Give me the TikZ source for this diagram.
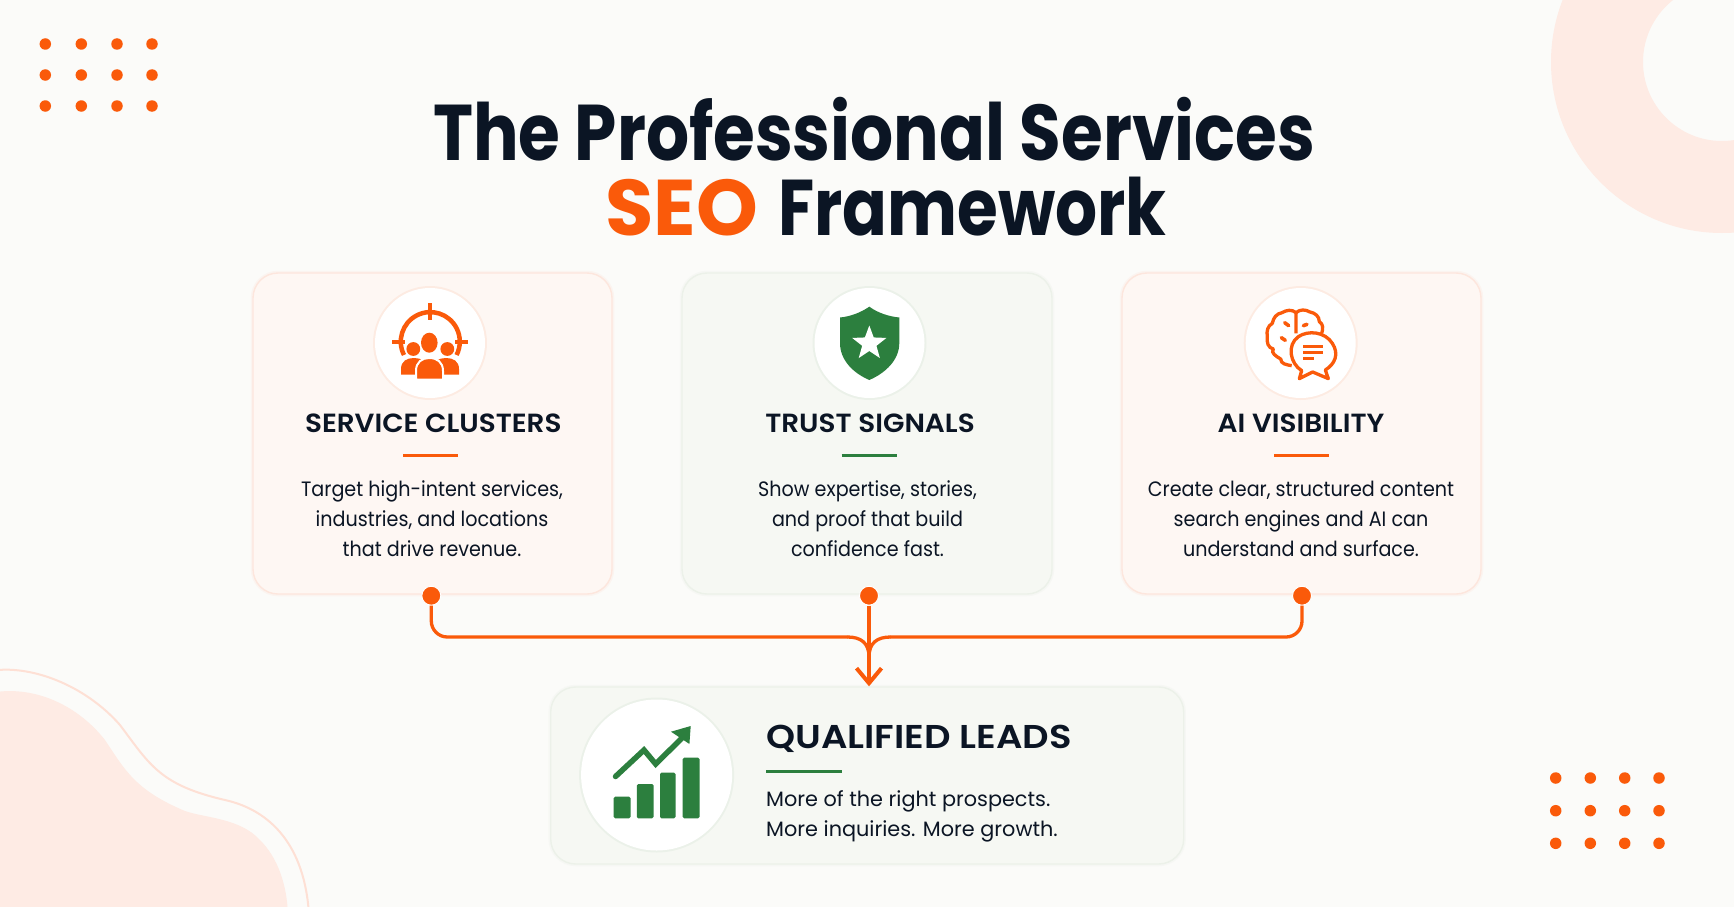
\documentclass[tikz,border=0pt]{standalone}
\usepackage{fontspec}
\usetikzlibrary{arrows.meta,calc,shapes.geometric}
\setmainfont{Poppins}
\newfontfamily\ftitle[FakeStretch=0.857]{Poppins}
\newfontfamily\ftitleseo[FakeStretch=0.995]{Poppins}
\newfontfamily\ftitlefw[FakeStretch=0.836]{Poppins}
\newfontfamily\fhead[FakeStretch=1.06]{Poppins SemiBold}
\newfontfamily\fheadlg[FakeStretch=1.12]{Poppins SemiBold}
\newfontfamily\fbody[FakeStretch=0.92]{Poppins}
\newfontfamily\fbodylg[FakeStretch=1.0]{Poppins}
\definecolor{bgc}{HTML}{FBFBF9}
\definecolor{ink}{HTML}{0B1524}
\definecolor{org}{HTML}{FA5A0A}
\definecolor{grn}{HTML}{2C7F3E}
\definecolor{deco}{HTML}{FEEBE4}
\definecolor{decoline}{HTML}{FEE0D5}
\definecolor{cardo}{HTML}{FEF7F3}
\definecolor{cardg}{HTML}{F6F8F3}
\definecolor{edgeo}{HTML}{FDE6DD}
\definecolor{edgeg}{HTML}{ECF1E9}
\tikzset{
  x=1pt,y=-1pt,
  cardbox/.style={rectangle,rounded corners=25pt,inner sep=0pt,line width=1.4pt},
  cardorange/.style={cardbox,fill=cardo,draw=edgeo,preaction={draw=edgeo,line width=4.5pt,opacity=.3}},
  cardgreen/.style={cardbox,fill=cardg,draw=edgeg,preaction={draw=edgeg,line width=4.5pt,opacity=.3}},
  iconcirc/.style={circle,fill=white,inner sep=0pt,minimum size=110pt},
  icono/.style={iconcirc,preaction={draw=org,line width=4pt,opacity=.07}},
  icong/.style={iconcirc,preaction={draw=grn,line width=4pt,opacity=.05}},
  headtext/.style={anchor=base,text=ink,inner sep=0pt,font=\fhead\fontsize{26.3pt}{30pt}\selectfont},
  bodytext/.style={anchor=base,text=ink,inner sep=0pt,font=\fbody\fontsize{20.8pt}{30pt}\selectfont},
  titletext/.style={anchor=base,inner sep=0pt},
  pindot/.style={circle,fill=org,draw=white,line width=1pt,inner sep=0pt,minimum size=19pt},
  conn/.style={draw=org,line width=3.3pt},
  rulestroke/.style={line width=3pt},
  decodot/.style={circle,fill=org,inner sep=0pt,minimum size=11.5pt},
}
\begin{document}
\begin{tikzpicture}
\useasboundingbox (0,0) rectangle (1734,907);
\fill[bgc] (0,0) rectangle (1734,907);
\begin{scope}
\clip (0,0) rectangle (1734,907);
% ring
\fill[deco,even odd rule] (1722,62) circle[radius=171] (1722,62) circle[radius=79];
% blob
\fill[deco] (-10,693) .. controls (30,685) and (75,702) .. (105,740)
  .. controls (125,770) and (135,790) .. (185,811)
  .. controls (205,818) and (240,818) .. (260,840)
  .. controls (278,858) and (287,885) .. (288,915) -- (-10,915) -- cycle;
\draw[decoline,line width=2pt] (-10,671) .. controls (30,664) and (85,685) .. (120,725)
  .. controls (150,765) and (160,785) .. (225,800)
  .. controls (270,810) and (305,845) .. (309,915);
\end{scope}
% decorative dots
\foreach \px/\xx in {a/45.3,b/81.3,c/117,d/152}\foreach \py/\yy in {a/44,b/75,c/106}
  \node[decodot] (tl\px\py) at (\xx,\yy) {};
\foreach \px/\xx in {a/1555.7,b/1590.3,c/1624.7,d/1659}\foreach \py/\yy in {a/778,b/810.7,c/843.3}
  \node[decodot] (br\px\py) at (\xx,\yy) {};
% title
\node[titletext,text=ink,font=\ftitle\fontsize{79pt}{90pt}\selectfont\bfseries] (t1) at (874,160.7) {The Professional Services};
\node[titletext,text=org,anchor=base west,font=\ftitleseo\fontsize{79pt}{90pt}\selectfont\bfseries] (t2a) at (605,235) {SEO};
\node[titletext,text=ink,anchor=base west,font=\ftitlefw\fontsize{79pt}{90pt}\selectfont\bfseries] (t2b) at (778,235) {Framework};
% cards
\node[cardorange,minimum width=359pt,minimum height=321pt] (c1) at (432.5,433.5) {};
\node[cardgreen,minimum width=370pt,minimum height=321pt] (c2) at (867,433.5) {};
\node[cardorange,minimum width=359pt,minimum height=321pt] (c3) at (1301.5,433.5) {};
\node[cardgreen,minimum width=633pt,minimum height=177pt] (c4) at (867.2,775.5) {};
% icon circles
\node[icono] (i1) at (430,343) {};
\node[icong] (i2) at (869.5,343) {};
\node[icono] (i3) at (1300.7,343) {};
\node[icong,minimum size=151pt] (i4) at (656.6,775) {};
% icon 1: target and people
\draw[org,line width=4.5pt] (404,355) arc[start angle=153,end angle=387,radius=29.5];
\draw[org,line width=4.5pt] (430,303) -- (430,320) (392,342) -- (405,342) (455,342) -- (468,342);
\fill[org] (413.3,349) circle[radius=6.9] (447.3,349) circle[radius=6.9];
\fill[org] (401,374.5) -- (401,369) .. controls (401,361) and (407,358) .. (414,358) .. controls (421,358) and (427,361) .. (430,369) -- (430,374.5) -- cycle;
\fill[org] (459,374.5) -- (459,369) .. controls (459,361) and (453,358) .. (446,358) .. controls (439,358) and (433,361) .. (430,369) -- (430,374.5) -- cycle;
\draw[white,line width=2pt,fill=org] (416,379.5) -- (416,371) .. controls (416,362) and (422,358) .. (429.3,358) .. controls (437,358) and (443,362) .. (443,371) -- (443,379.5) -- cycle;
\fill[org] (429.3,342.7) ellipse[x radius=8.3,y radius=10];
% icon 2: shield and star
\fill[grn] (869.3,306.7) .. controls (860,313) and (850,316.5) .. (840,317.5) -- (840,343) .. controls (840,360) and (853,373) .. (869.3,380) .. controls (885.5,373) and (899.3,360) .. (899.3,343) -- (899.3,317.5) .. controls (889,316.5) and (878,313) .. cycle;
\node[star,star points=5,star point ratio=2.4,fill=white,inner sep=0pt,minimum size=36pt] (s2) at (869.3,343.5) {};
% icon 3: brain and chat
\begin{scope}[shift={(1240,280)},x=.3333pt,y=-.3333pt]
\draw[org,line width=3.3pt,line join=round]
  (168,160) -- (168,98)
  to[out=140,in=30] (126,98) to[out=190,in=80] (97,130) to[out=210,in=100] (82,170)
  to[out=260,in=170] (100,207) to[out=230,in=150] (122,237) to[out=270,in=170] (155,257);
\draw[org,line width=3.3pt,line join=round]
  (168,98) to[out=40,in=150] (210,96) to[out=-10,in=90] (238,125) to[out=-30,in=70] (245,160);
\draw[org,line width=3.6pt,line cap=round]
  (134,128) -- (146,137) (190,137) -- (201,133) (124,173) -- (136,181);
\draw[org,line width=3.3pt,fill=white,line join=round]
  (185,272) .. controls (150,250) and (140,195) .. (175,170)
  .. controls (205,150) and (255,155) .. (277,190)
  .. controls (298,222) and (285,252) .. (256,270)
  -- (265,296) -- (218,276) -- (178,296) -- cycle;
\draw[org,line width=3pt] (190,201) -- (248,201) (190,219) -- (248,219) (190,237) -- (223,237);
\end{scope}
% icon 4: chart
\fill[grn,rounded corners=1.5pt] (613.6,818.3) rectangle (630.5,796.7);
\fill[grn,rounded corners=1.5pt] (636.8,818.3) rectangle (653.6,784);
\fill[grn,rounded corners=1.5pt] (660,818.3) rectangle (675.5,772.7);
\fill[grn,rounded corners=1.5pt] (682.7,818.3) rectangle (699.5,757.7);
\draw[grn,line width=5.5pt,line join=miter,line cap=round] (615.5,776.5) -- (644,750) -- (655.7,764) -- (682,738);
\fill[grn] (690.7,726) -- (671,731.7) -- (689.4,744) -- cycle;
% card text
\node[headtext] (h1) at (433.3,432.7) {SERVICE CLUSTERS};
\node[headtext] (h2) at (870,432.7) {TRUST SIGNALS};
\node[headtext] (h3) at (1301,432.7) {AI VISIBILITY};
\draw[org,rulestroke] (403,455.7) -- (458,455.7);
\draw[grn,rulestroke] (841.7,455.7) -- (896.7,455.7);
\draw[org,rulestroke] (1274.3,455.7) -- (1328.7,455.7);
\node[bodytext] (b1a) at (432,496.7) {Target high-intent services,};
\node[bodytext] (b1b) at (432,526.7) {industries, and locations};
\node[bodytext] (b1c) at (432,556.7) {that drive revenue.};
\node[bodytext] (b2a) at (867.5,496.7) {Show expertise, stories,};
\node[bodytext] (b2b) at (867.5,526.7) {and proof that build};
\node[bodytext] (b2c) at (867.5,556.7) {confidence fast.};
\node[bodytext] (b3a) at (1301,496.7) {Create clear, structured content};
\node[bodytext] (b3b) at (1301,526.7) {search engines and AI can};
\node[bodytext] (b3c) at (1301,556.7) {understand and surface.};
% leads text
\node[headtext,anchor=base west,font=\fheadlg\fontsize{33pt}{36pt}\selectfont] (h4) at (766,748) {QUALIFIED LEADS};
\draw[grn,rulestroke] (766.4,771) -- (842,771);
\node[bodytext,anchor=base west,font=\fbodylg\fontsize{20.8pt}{30pt}\selectfont] (b4a) at (766,806.7) {More of the right prospects.};
\node[bodytext,anchor=base west,font=\fbodylg\fontsize{20.8pt}{30pt}\selectfont] (b4b) at (766,836.7) {More inquiries. More growth.};
% connectors
\node[pindot] (d1) at (431.3,595.7) {};
\node[pindot] (d2) at (869,595.7) {};
\node[pindot] (d3) at (1302,595.7) {};
\coordinate (bus) at (869,637);
\coordinate (merge) at (869,657);
\path[conn,rounded corners=16pt] (d1.south) -- (d1 |- bus) -- ($(bus)+(-21,0)$);
\path[conn] ($(bus)+(-21.5,0)$) .. controls ($(bus)+(-8,0)$) and ($(bus)+(0,6)$) .. (merge);
\path[conn,rounded corners=16pt] (d3.south) -- (d3 |- bus) -- ($(bus)+(21,0)$);
\path[conn] ($(bus)+(21.5,0)$) .. controls ($(bus)+(8,0)$) and ($(bus)+(0,6)$) .. (merge);
\path[conn,-{Straight Barb[length=15pt,width=25pt,line width=4pt]}] (d2.south) -- (d2 |- c4.north);
\end{tikzpicture}
\end{document}
